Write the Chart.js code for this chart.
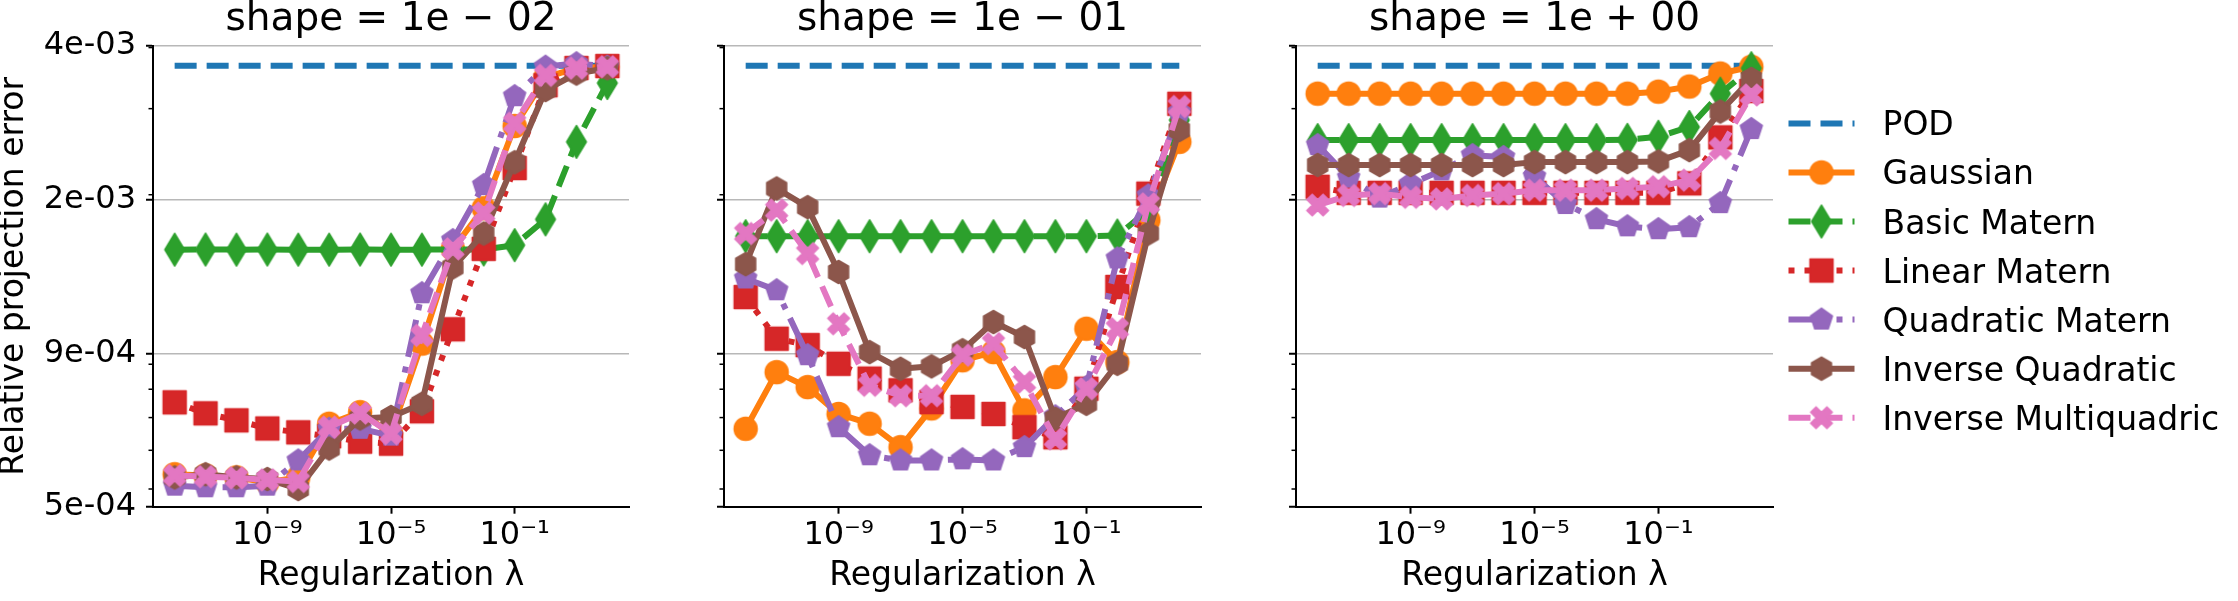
<!DOCTYPE html>
<html>
<head>
<meta charset="utf-8">
<script src="https://cdn.jsdelivr.net/npm/chart.js@4.4.1/dist/chart.umd.min.js"></script>
<style>
  html, body { margin: 0; padding: 0; background: #fff; }
  #wrap { position: relative; width: 2238px; height: 601px; }
  #wrap canvas { position: absolute; left: 0; top: 0; }
</style>
</head>
<body>
<div id="wrap">
  <canvas id="p1" width="2238" height="601"></canvas>
  <canvas id="p2" width="2238" height="601"></canvas>
  <canvas id="p3" width="2238" height="601"></canvas>
</div>
<script>
// regularization values (x) shared by every panel
const lambdas = [1e-12, 1e-11, 1e-10, 1e-9, 1e-8, 1e-7, 1e-6, 1e-5, 1e-4, 1e-3, 1e-2, 1e-1, 1e0, 1e1, 1e2];
const seriesNames = ['POD', 'Gaussian', 'Basic Matern', 'Linear Matern', 'Quadratic Matern', 'Inverse Quadratic', 'Inverse Multiquadric'];
const shapeTitles = ['shape = 1e \u2212 02', 'shape = 1e \u2212 01', 'shape = 1e + 00'];

const xMin = 1.995e-13, xMax = 501.2;
const xTickValues = [1e-9, 1e-5, 1e-1];
const xTickLabels = ['10\u207B\u2079', '10\u207B\u2075', '10\u207B\u00B9'];
const yMin = 4.6e-4, yMax = 4.03e-3;
const yTickValues = [4.6e-4, 9.47e-4, 1.953e-3, 4.03e-3];
const yTickLabels = ['5e-04', '9e-04', '2e-03', '4e-03'];
const yMinorTicks = [5e-4, 6e-4, 7e-4, 8e-4, 9e-4, 2e-3, 3e-3, 4e-3];

const pod = [3.67e-3, 3.67e-3, 3.67e-3, 3.67e-3, 3.67e-3, 3.67e-3, 3.67e-3, 3.67e-3, 3.67e-3, 3.67e-3, 3.67e-3, 3.67e-3, 3.67e-3, 3.67e-3, 3.67e-3];

// shape = 1e-02
const gaussian1 = [5.36e-4, 5.33e-4, 5.28e-4, 5.16e-4, 5.28e-4, 6.80e-4, 7.18e-4, 6.50e-4, 9.92e-4, 1.55e-3, 1.877e-3, 2.764e-3, 3.478e-3, 3.633e-3, 3.655e-3];
const basic1 = [1.544e-3, 1.545e-3, 1.544e-3, 1.545e-3, 1.544e-3, 1.544e-3, 1.545e-3, 1.544e-3, 1.544e-3, 1.545e-3, 1.546e-3, 1.577e-3, 1.781e-3, 2.566e-3, 3.385e-3];
const linear1 = [7.52e-4, 7.14e-4, 6.91e-4, 6.65e-4, 6.53e-4, 6.41e-4, 6.25e-4, 6.19e-4, 7.21e-4, 1.061e-3, 1.55e-3, 2.268e-3, 3.35e-3, 3.633e-3, 3.667e-3];
const quadratic1 = [5.08e-4, 5.04e-4, 5.04e-4, 5.08e-4, 5.72e-4, 6.64e-4, 6.64e-4, 6.43e-4, 1.257e-3, 1.614e-3, 2.093e-3, 3.181e-3, 3.655e-3, 3.715e-3, 3.655e-3];
const invQuad1 = [5.28e-4, 5.36e-4, 5.28e-4, 5.24e-4, 5.00e-4, 6.05e-4, 6.97e-4, 7.02e-4, 7.47e-4, 1.42e-3, 1.666e-3, 2.33e-3, 3.275e-3, 3.54e-3, 3.63e-3];
const invMulti1 = [5.33e-4, 5.30e-4, 5.27e-4, 5.22e-4, 5.18e-4, 6.69e-4, 7.15e-4, 6.49e-4, 1.031e-3, 1.55e-3, 1.835e-3, 2.80e-3, 3.51e-3, 3.63e-3, 3.655e-3];

// shape = 1e-01
const gaussian2 = [6.64e-4, 8.67e-4, 8.08e-4, 7.12e-4, 6.80e-4, 6.09e-4, 7.31e-4, 9.17e-4, 9.53e-4, 7.24e-4, 8.47e-4, 1.064e-3, 9.09e-4, 1.774e-3, 2.566e-3];
const basic2 = [1.645e-3, 1.645e-3, 1.645e-3, 1.645e-3, 1.645e-3, 1.645e-3, 1.645e-3, 1.645e-3, 1.645e-3, 1.645e-3, 1.645e-3, 1.645e-3, 1.65e-3, 1.86e-3, 2.843e-3];
const linear2 = [1.235e-3, 1.015e-3, 9.85e-4, 9.02e-4, 8.41e-4, 7.96e-4, 7.53e-4, 7.36e-4, 7.12e-4, 6.69e-4, 6.38e-4, 8.02e-4, 1.295e-3, 2.01e-3, 3.07e-3];
const quadratic2 = [1.348e-3, 1.275e-3, 9.39e-4, 6.69e-4, 5.86e-4, 5.72e-4, 5.72e-4, 5.75e-4, 5.72e-4, 6.09e-4, 7.04e-4, 8.08e-4, 1.481e-3, 1.993e-3, 2.95e-3];
const invQuad2 = [1.442e-3, 2.06e-3, 1.886e-3, 1.39e-3, 9.53e-4, 8.81e-4, 8.91e-4, 9.61e-4, 1.098e-3, 1.023e-3, 6.96e-4, 7.47e-4, 9.02e-4, 1.666e-3, 2.712e-3];
const invMulti2 = [1.666e-3, 1.86e-3, 1.516e-3, 1.089e-3, 8.15e-4, 7.76e-4, 7.76e-4, 9.39e-4, 9.92e-4, 8.27e-4, 6.33e-4, 8.02e-4, 1.064e-3, 1.916e-3, 3.03e-3];

// shape = 1e+00
const gaussian3 = [3.22e-3, 3.22e-3, 3.22e-3, 3.22e-3, 3.22e-3, 3.22e-3, 3.22e-3, 3.22e-3, 3.22e-3, 3.22e-3, 3.22e-3, 3.25e-3, 3.33e-3, 3.54e-3, 3.655e-3];
const basic3 = [2.587e-3, 2.587e-3, 2.587e-3, 2.587e-3, 2.587e-3, 2.587e-3, 2.587e-3, 2.587e-3, 2.587e-3, 2.587e-3, 2.59e-3, 2.628e-3, 2.752e-3, 3.22e-3, 3.63e-3];
const linear3 = [2.076e-3, 2.018e-3, 2.018e-3, 2.018e-3, 2.018e-3, 2.018e-3, 2.018e-3, 2.018e-3, 2.018e-3, 2.018e-3, 2.018e-3, 2.018e-3, 2.11e-3, 2.62e-3, 3.26e-3];
const quadratic3 = [2.526e-3, 2.168e-3, 1.973e-3, 2.105e-3, 2.243e-3, 2.41e-3, 2.388e-3, 2.178e-3, 1.914e-3, 1.782e-3, 1.723e-3, 1.70e-3, 1.716e-3, 1.922e-3, 2.725e-3];
const invQuad3 = [2.30e-3, 2.30e-3, 2.30e-3, 2.30e-3, 2.30e-3, 2.30e-3, 2.30e-3, 2.332e-3, 2.332e-3, 2.332e-3, 2.332e-3, 2.34e-3, 2.468e-3, 2.96e-3, 3.45e-3];
const invMulti3 = [1.905e-3, 1.993e-3, 2.01e-3, 1.976e-3, 1.961e-3, 1.993e-3, 2.01e-3, 2.043e-3, 2.043e-3, 2.043e-3, 2.06e-3, 2.077e-3, 2.142e-3, 2.488e-3, 3.20e-3];

const colors = ['#1f77b4', '#ff7f0e', '#2ca02c', '#d62728', '#9467bd', '#8c564b', '#e377c2'];
const dashes = [[22, 10], [], [22, 10], [6, 10], [38, 10, 6, 10], [], [22, 10]];
const markerKinds = [null, 'circle', 'thinDiamond', 'square', 'pentagon', 'hexagon', 'xFilled'];

Chart.defaults.font.family = '"DejaVu Sans", sans-serif';
Chart.defaults.color = '#000';

// matplotlib-like markers as small canvases (Chart.js has no pentagon/hexagon/filled X)
function makeMarker(kind, color) {
  const s = 40;
  const c = document.createElement('canvas');
  c.width = s; c.height = s;
  const g = c.getContext('2d');
  g.translate(s / 2, s / 2);
  g.fillStyle = color; g.strokeStyle = color; g.lineWidth = 1.5; g.lineJoin = 'round';
  const poly = pts => { g.beginPath(); pts.forEach(([x, y], j) => j ? g.lineTo(x, y) : g.moveTo(x, y)); g.closePath(); };
  const regular = (n, r) => {
    const pts = [];
    for (let j = 0; j < n; j++) {
      const a = -Math.PI / 2 + j * 2 * Math.PI / n;
      pts.push([r * Math.cos(a), r * Math.sin(a)]);
    }
    poly(pts);
  };
  if (kind === 'circle') { g.beginPath(); g.arc(0, 0, 11.5, 0, 2 * Math.PI); }
  else if (kind === 'thinDiamond') poly([[0, -16.3], [9.8, 0], [0, 16.3], [-9.8, 0]]);
  else if (kind === 'square') poly([[-11.5, -11.5], [11.5, -11.5], [11.5, 11.5], [-11.5, 11.5]]);
  else if (kind === 'pentagon') regular(5, 11.5);
  else if (kind === 'hexagon') regular(6, 11.5);
  else if (kind === 'xFilled') {
    const u = 23 / 6;
    g.rotate(Math.PI / 4);
    poly([[-u, -3 * u], [u, -3 * u], [u, -u], [3 * u, -u], [3 * u, u], [u, u], [u, 3 * u], [-u, 3 * u], [-u, u], [-3 * u, u], [-3 * u, -u], [-u, -u]]);
  }
  g.fill(); g.stroke();
  return c;
}
const markerImgs = markerKinds.map((k, i) => k ? makeMarker(k, colors[i]) : false);

// matplotlib draws minor log ticks on the y spine
const minorTicks = {
  id: 'minorTicks',
  afterDraw(chart) {
    const ys = chart.scales.y, ctx = chart.ctx, x0 = chart.chartArea.left;
    ctx.save();
    ctx.strokeStyle = '#000';
    ctx.lineWidth = 1.5;
    yMinorTicks.forEach(v => {
      const py = ys.getPixelForValue(v);
      ctx.beginPath(); ctx.moveTo(x0 - 4.5, py); ctx.lineTo(x0, py); ctx.stroke();
    });
    ctx.restore();
  }
};

// legend outside the last panel, line sample + single marker like matplotlib
const sideLegend = {
  id: 'sideLegend',
  afterDraw(chart) {
    const ctx = chart.ctx;
    const x0 = chart.chartArea.right + 15.5, len = 66, textX = x0 + len + 28;
    chart.data.datasets.forEach((ds, i) => {
      const y = 123.4 + i * 49.05;
      ctx.save();
      ctx.strokeStyle = ds.borderColor;
      ctx.lineWidth = ds.borderWidth;
      ctx.setLineDash(ds.borderDash);
      ctx.beginPath(); ctx.moveTo(x0, y); ctx.lineTo(x0 + len, y); ctx.stroke();
      ctx.setLineDash([]);
      if (ds.pointStyle) {
        const img = ds.pointStyle;
        ctx.drawImage(img, x0 + len / 2 - img.width / 2, y - img.height / 2);
      }
      ctx.fillStyle = '#000';
      ctx.font = '33px "DejaVu Sans"';
      ctx.textBaseline = 'alphabetic';
      ctx.fillText(ds.label, textX, y + 12);
      ctx.restore();
    });
  }
};

const panels = [
  { id: 'p1', title: shapeTitles[0], series: [pod, gaussian1, basic1, linear1, quadratic1, invQuad1, invMulti1], padLeft: 0, padRight: 1609, yWidth: 153, first: true },
  { id: 'p2', title: shapeTitles[1], series: [pod, gaussian2, basic2, linear2, quadratic2, invQuad2, invMulti2], padLeft: 714, padRight: 1037, yWidth: 10, first: false },
  { id: 'p3', title: shapeTitles[2], series: [pod, gaussian3, basic3, linear3, quadratic3, invQuad3, invMulti3], padLeft: 1286, padRight: 465, yWidth: 10, first: false }
];

panels.forEach((p, pi) => {
  const datasets = seriesNames.map((name, i) => ({
    label: name,
    data: lambdas.map((x, k) => ({ x: x, y: p.series[i][k] })),
    borderColor: colors[i],
    backgroundColor: colors[i],
    borderWidth: 6,
    borderDash: dashes[i],
    borderJoinStyle: 'round',
    pointStyle: markerImgs[i],
    pointRadius: i === 0 ? 0 : 11.5,
    pointBorderWidth: 0,
    tension: 0,
    order: 10 - i,
    clip: false
  }));

  new Chart(document.getElementById(p.id), {
    type: 'line',
    data: { datasets },
    plugins: pi === 2 ? [minorTicks, sideLegend] : [minorTicks],
    options: {
      responsive: false,
      animation: false,
      events: [],
      layout: { padding: { left: p.padLeft, right: p.padRight, top: 0, bottom: 0 } },
      plugins: {
        legend: { display: false },
        tooltip: { enabled: false },
        title: {
          display: true, text: p.title, fullSize: false, color: '#000',
          font: { size: 39, weight: 'normal', lineHeight: 1.0 },
          padding: { top: 0, bottom: 7 }
        }
      },
      scales: {
        x: {
          type: 'logarithmic', min: xMin, max: xMax, bounds: 'data',
          afterBuildTicks: s => { s.ticks = xTickValues.map(v => ({ value: v })); },
          afterFit: s => { s.height = 94.3; },
          grid: { display: true, drawOnChartArea: false, drawTicks: true, tickLength: 7, tickWidth: 2, tickColor: '#000' },
          border: { display: true, color: '#000', width: 2 },
          ticks: { callback: (v, i) => xTickLabels[i], color: '#000', font: { size: 32 }, padding: 3, maxRotation: 0, autoSkip: false },
          title: { display: true, text: 'Regularization \u03BB', color: '#000', font: { size: 33 }, padding: { top: 0, bottom: 4.6 } }
        },
        y: {
          type: 'logarithmic', min: yMin, max: yMax, bounds: 'data',
          afterBuildTicks: s => { s.ticks = yTickValues.map(v => ({ value: v })); },
          afterFit: s => { s.width = p.yWidth; },
          grid: { color: '#b8b8b8', lineWidth: 1.5, tickColor: '#000', tickLength: 7, tickWidth: 2 },
          border: { display: true, color: '#000', width: 2 },
          ticks: { display: p.first, callback: (v, i) => yTickLabels[i], color: '#000', font: { size: 32 }, padding: 10, autoSkip: false },
          title: { display: p.first, text: 'Relative projection error', color: '#000', font: { size: 33, lineHeight: 0.88 }, padding: 0 }
        }
      }
    }
  });
});
</script>
</body>
</html>
